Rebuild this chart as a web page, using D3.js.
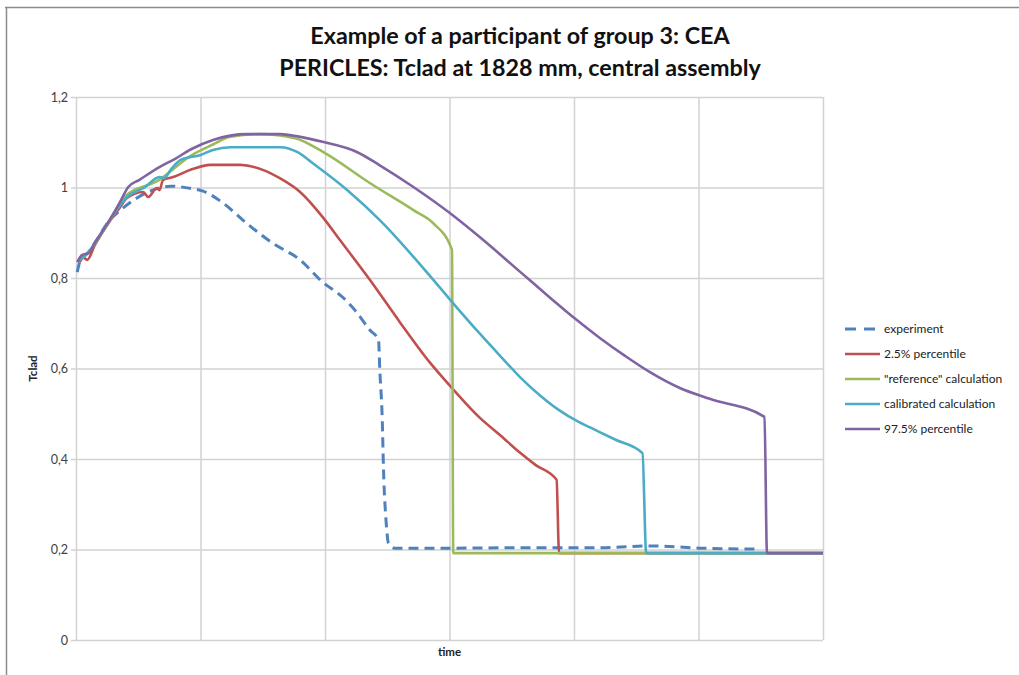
<!DOCTYPE html>
<html><head><meta charset="utf-8">
<script src="https://cdnjs.cloudflare.com/ajax/libs/d3/7.8.5/d3.min.js"></script>
<style>
html,body{margin:0;padding:0;background:#fff;}
svg{display:block;font-family:Lato,"Open Sans",sans-serif;}
</style></head>
<body><svg id="c" width="1019" height="675"></svg>
<script>
const titleLines = ["Example of a participant of group 3: CEA", "PERICLES: Tclad at 1828 mm, central assembly"];
const yTicks = [0, 0.2, 0.4, 0.6, 0.8, 1, 1.2];
const yTickLabels = ["0", "0,2", "0,4", "0,6", "0,8", "1", "1,2"];
const xGrid = [0, 1, 2, 3, 4, 5, 6];
const seriesNames = ["experiment", "2.5% percentile", "\"reference\" calculation", "calibrated calculation", "97.5% percentile"];
const seriesColors = ["#4F81BD", "#C0504D", "#9BBB59", "#4BACC6", "#8064A2"];

const expT = [0.01,0.03,0.10,0.15,0.27,0.34,0.49,0.67,0.76,0.94,1.02,1.18,1.37,1.58,1.80,1.98,2.14,2.24,2.36,2.43,2.44,2.46,2.47,2.49,2.51,2.56,3.00,3.57,4.21,4.63,5.01,5.45];
const expV = [0.813,0.835,0.857,0.877,0.928,0.946,0.977,0.999,1.003,0.997,0.992,0.966,0.921,0.877,0.840,0.791,0.758,0.729,0.685,0.663,0.597,0.486,0.376,0.265,0.214,0.203,0.203,0.204,0.204,0.208,0.203,0.201];

const lowT = [0.03,0.06,0.09,0.15,0.27,0.35,0.41,0.54,0.58,0.65,0.67,0.70,0.78,0.92,1.08,1.32,1.50,1.64,1.80,1.98,2.12,2.36,2.60,2.84,3.00,3.24,3.41,3.57,3.69,3.86,3.88,6.00];
const lowV = [0.835,0.845,0.840,0.872,0.925,0.955,0.977,0.990,0.979,0.999,0.994,1.017,1.023,1.039,1.050,1.050,1.039,1.020,0.990,0.935,0.884,0.796,0.703,0.614,0.563,0.492,0.452,0.413,0.387,0.354,0.192,0.192];

const refT = [0.03,0.10,0.15,0.27,0.39,0.67,0.92,1.10,1.24,1.48,1.76,2.00,2.36,2.71,2.87,3.02,3.03,6.00];
const refV = [0.840,0.857,0.875,0.926,0.979,1.017,1.070,1.095,1.112,1.118,1.109,1.076,1.010,0.950,0.921,0.862,0.192,0.192];

const calT = [0.03,0.10,0.15,0.27,0.41,0.55,0.67,0.71,0.76,0.84,1.00,1.10,1.24,1.64,1.78,1.90,2.18,2.44,2.87,3.08,3.24,3.41,3.57,3.73,3.88,4.03,4.15,4.33,4.55,4.58,6.00];
const calV = [0.840,0.857,0.876,0.928,0.979,1.000,1.023,1.021,1.039,1.061,1.072,1.083,1.089,1.089,1.078,1.054,0.994,0.928,0.796,0.728,0.678,0.627,0.580,0.540,0.508,0.483,0.467,0.443,0.413,0.192,0.192];

const highT = [0.01,0.05,0.10,0.15,0.27,0.35,0.42,0.51,0.67,0.80,0.92,1.10,1.37,1.64,1.78,1.98,2.26,2.44,2.71,3.00,3.24,3.57,3.81,4.00,4.21,4.41,4.61,4.85,5.09,5.53,5.55,6.00];
const highV = [0.835,0.851,0.855,0.877,0.928,0.966,1.001,1.017,1.045,1.064,1.084,1.105,1.118,1.118,1.113,1.101,1.078,1.049,1.001,0.944,0.891,0.813,0.756,0.712,0.667,0.628,0.592,0.557,0.533,0.493,0.192,0.192];

const seriesT = [expT, lowT, refT, calT, highT];
const seriesV = [expV, lowV, refV, calV, highV];

const svg = d3.select("#c");
const L = 76, R = 823, T = 97, B = 640;
const x = d3.scaleLinear().domain([0, 6]).range([L, R]);
const y = d3.scaleLinear().domain([0, 1.2]).range([B, T]);

// frame
svg.append("line").attr("x1", 5).attr("x2", 1019).attr("y1", 7.5).attr("y2", 7.5).attr("stroke", "#8c8c8c").attr("stroke-width", 1.5);
svg.append("line").attr("x1", 6.5).attr("x2", 6.5).attr("y1", 7).attr("y2", 675).attr("stroke", "#8c8c8c").attr("stroke-width", 1.5);

// title
svg.append("g").selectAll("text").data(titleLines).join("text")
  .attr("x", 520).attr("y", (d, i) => 44 + i * 32)
  .attr("text-anchor", "middle").attr("font-weight", "bold").attr("font-size", 23.3).attr("fill", "#111")
  .text(d => d);

// grid
const gy = svg.append("g").attr("transform", `translate(${L},0)`)
  .call(d3.axisLeft(y).tickValues(yTicks).tickSize(-(R - L)).tickSizeOuter(0).tickPadding(8).tickFormat((d, i) => yTickLabels[i]));
gy.select(".domain").remove();
gy.selectAll(".tick line").attr("stroke", "#d2d2d2").attr("stroke-width", 1.5).attr("x1", -5);
gy.selectAll(".tick text").attr("font-size", 12.5).attr("fill", "#404040").attr("font-family", "Lato, sans-serif");

const gx = svg.append("g").attr("transform", `translate(0,${B})`)
  .call(d3.axisBottom(x).tickValues(xGrid).tickSize(-(B - T)).tickSizeOuter(0).tickFormat(""));
gx.select(".domain").remove();
gx.selectAll(".tick line").attr("stroke", "#d2d2d2").attr("stroke-width", 1.5);

// axis titles
svg.append("text").attr("x", (L + R) / 2).attr("y", 656).attr("text-anchor", "middle")
  .attr("font-weight", "bold").attr("font-size", 11.5).attr("fill", "#222").text("time");
svg.append("text").attr("transform", `translate(37,${(T + B) / 2}) rotate(-90)`).attr("text-anchor", "middle")
  .attr("font-weight", "bold").attr("font-size", 11.5).attr("fill", "#222").text("Tclad");

// series
const line = d3.line().x(d => x(d[0])).y(d => y(d[1])).curve(d3.curveMonotoneX);
const plot = svg.append("g");
seriesT.forEach((ts, k) => {
  const pts = ts.map((t, i) => [t, seriesV[k][i]]);
  plot.append("path").datum(pts).attr("d", line).attr("fill", "none")
    .attr("stroke", seriesColors[k]).attr("stroke-width", k === 0 ? 3 : 2.6)
    .attr("stroke-linejoin", "round")
    .attr("stroke-dasharray", k === 0 ? "10,6" : null);
});

// legend
const lg = svg.append("g").selectAll("g").data(seriesNames).join("g")
  .attr("transform", (d, i) => `translate(845,${329 + i * 25})`);
lg.append("line").attr("x1", 0).attr("x2", 35).attr("y1", 0).attr("y2", 0)
  .attr("stroke", (d, i) => seriesColors[i]).attr("stroke-width", (d, i) => i === 0 ? 3 : 2.6)
  .attr("stroke-dasharray", (d, i) => i === 0 ? "11,8" : null);
lg.append("text").attr("x", 39).attr("y", 4).attr("font-size", 12).attr("fill", "#222").text(d => d);
</script></body></html>
